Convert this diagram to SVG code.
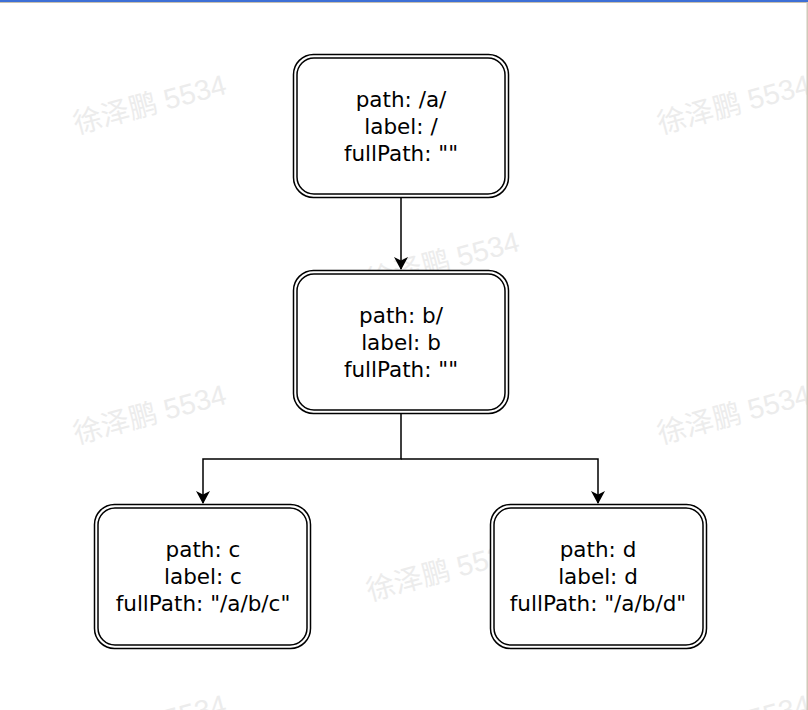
<svg xmlns="http://www.w3.org/2000/svg" width="808" height="710" viewBox="0 0 808 710">
<style>
.wm{font-family:"Liberation Sans","Noto Sans CJK SC",sans-serif;font-size:28.5px;fill:#ececec;}
.outer{fill:#fff;stroke:#000;stroke-width:1.5;}
.inner{fill:none;stroke:#000;stroke-width:1.5;}
.t{font-family:"DejaVu Sans",sans-serif;font-size:21.5px;fill:#000;text-anchor:middle;}
.c{fill:none;stroke:#000;stroke-width:1.5;}
</style>
<defs>
<marker id="arr" viewBox="0 0 13 14" refX="12" refY="7" markerWidth="13" markerHeight="14" markerUnits="userSpaceOnUse" orient="auto">
<path d="M0,0 L13,7 L0,14 L3.5,7 Z" fill="#000"/>
</marker>
</defs>
<rect x="0" y="0" width="808" height="710" fill="#fff"/>
<g id="watermarks">
<text class="wm" x="150" y="114" text-anchor="middle" transform="rotate(-15 150 105)">徐泽鹏 5534</text>
<text class="wm" x="734" y="114" text-anchor="middle" transform="rotate(-15 734 105)">徐泽鹏 5534</text>
<text class="wm" x="443" y="271" text-anchor="middle" transform="rotate(-15 443 262)">徐泽鹏 5534</text>
<text class="wm" x="150" y="424" text-anchor="middle" transform="rotate(-15 150 415)">徐泽鹏 5534</text>
<text class="wm" x="734" y="424" text-anchor="middle" transform="rotate(-15 734 415)">徐泽鹏 5534</text>
<text class="wm" x="443" y="581" text-anchor="middle" transform="rotate(-15 443 572)">徐泽鹏 5534</text>
<text class="wm" x="150" y="734" text-anchor="middle" transform="rotate(-15 150 725)">徐泽鹏 5534</text>
<text class="wm" x="734" y="734" text-anchor="middle" transform="rotate(-15 734 725)">徐泽鹏 5534</text>
</g>
<g id="connectors">
<path class="c" d="M401,198 L401,269" marker-end="url(#arr)"/>
<path class="c" d="M401,414 L401,459 L203,459 L203,503" marker-end="url(#arr)"/>
<path class="c" d="M401,459 L598,459 L598,503" marker-end="url(#arr)"/>
</g>
<g id="node-a">
<rect class="outer" x="293.5" y="54.5" width="215" height="143" rx="20"/>
<rect class="inner" x="297" y="58" width="208" height="136" rx="17"/>
<text class="t" x="401" y="107">path: /a/</text>
<text class="t" x="401" y="134">label: /</text>
<text class="t" x="401" y="161">fullPath: ""</text>
</g>
<g id="node-b">
<rect class="outer" x="293.5" y="270.5" width="215" height="143" rx="20"/>
<rect class="inner" x="297" y="274" width="208" height="136" rx="17"/>
<text class="t" x="401" y="323">path: b/</text>
<text class="t" x="401" y="350">label: b</text>
<text class="t" x="401" y="377">fullPath: ""</text>
</g>
<g id="node-c">
<rect class="outer" x="94.5" y="504.5" width="216" height="144" rx="20"/>
<rect class="inner" x="98" y="508" width="209" height="137" rx="17"/>
<text class="t" x="203" y="557">path: c</text>
<text class="t" x="203" y="584">label: c</text>
<text class="t" x="203" y="611">fullPath: "/a/b/c"</text>
</g>
<g id="node-d">
<rect class="outer" x="490.5" y="504.5" width="216" height="144" rx="20"/>
<rect class="inner" x="494" y="508" width="209" height="137" rx="17"/>
<text class="t" x="598" y="557">path: d</text>
<text class="t" x="598" y="584">label: d</text>
<text class="t" x="598" y="611">fullPath: "/a/b/d"</text>
</g>
<rect x="0" y="0" width="808" height="2" fill="#3d6fd6"/>
<rect x="0" y="2" width="808" height="1" fill="#c8c0b0"/>
<rect x="806.5" y="2" width="1.5" height="708" fill="#d0c8b8"/>
</svg>
